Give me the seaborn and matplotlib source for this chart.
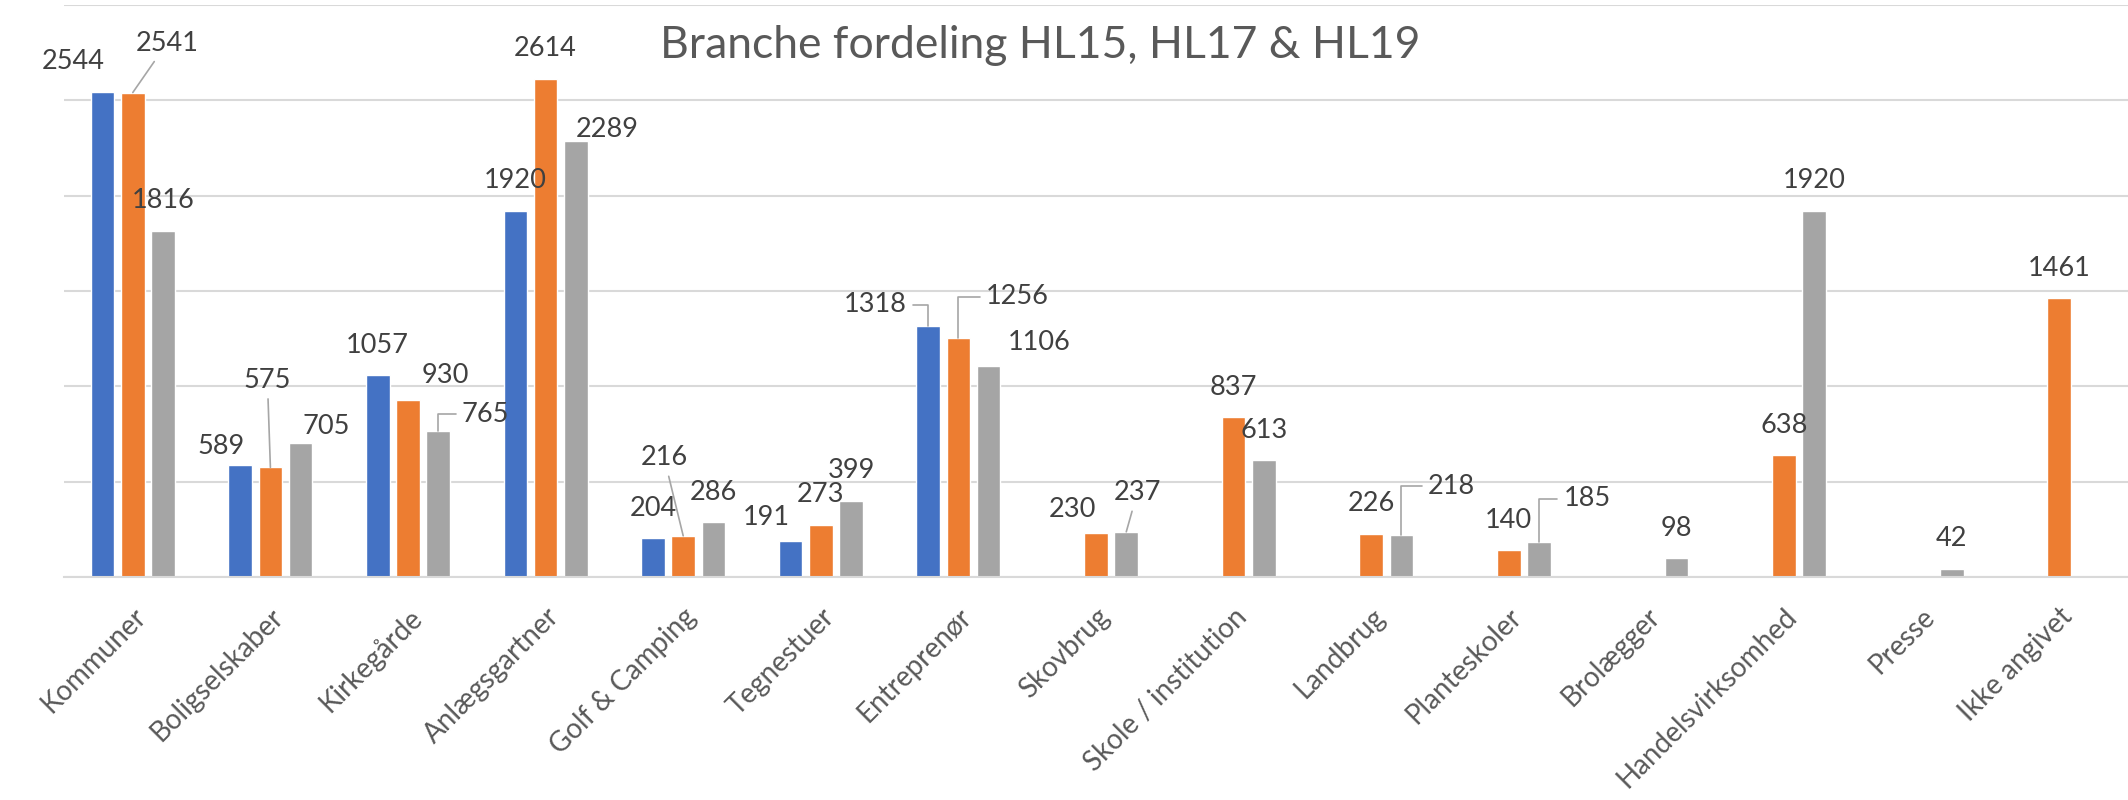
import numpy as np
import pandas as pd
import seaborn as sns
import matplotlib.pyplot as plt

# data
branches = ["Kommuner", "Boligselskaber", "Kirkegårde", "Anlægsgartner", "Golf & Camping",
            "Tegnestuer", "Entreprenør", "Skovbrug", "Skole / institution", "Landbrug",
            "Planteskoler", "Brolægger", "Handelsvirksomhed", "Presse", "Ikke angivet"]
years = ["HL15", "HL17", "HL19"]
hl15 = [2544, 589, 1057, 1920, 204, 191, 1318, None, None, None, None, None, None, None, None]
hl17 = [2541, 575, 930, 2614, 216, 273, 1256, 230, 837, 226, 140, None, 638, None, 1461]
hl19 = [1816, 705, 765, 2289, 286, 399, 1106, 237, 613, 218, 185, 98, 1920, 42, None]
colors = ["#4472C4", "#ED7D31", "#A5A5A5"]
title = "Branche fordeling HL15, HL17 & HL19"

# label placement (pixel offsets from bar top), dragged labels as in the original
label_pos = {
    ("HL15", "Kommuner"): (-29, 30, None),
    ("HL17", "Kommuner"): (34, 49, "line"),
    ("HL15", "Boligselskaber"): (-19, 18, None),
    ("HL17", "Boligselskaber"): (-3, 87, "line"),
    ("HL19", "Boligselskaber"): (26, 16, None),
    ("HL17", "Kirkegårde"): (37, 24, None),
    ("HL19", "Kirkegårde"): (47, 17, "elbow"),
    ("HL19", "Anlægsgartner"): (31, 11, None),
    ("HL17", "Golf & Camping"): (-19, 78, "line"),
    ("HL15", "Tegnestuer"): (-24, 23, None),
    ("HL15", "Entreprenør"): (-53, 21, "elbow"),
    ("HL17", "Entreprenør"): (59, 41, "elbow"),
    ("HL19", "Entreprenør"): (50, 24, None),
    ("HL17", "Skovbrug"): (-24, 24, None),
    ("HL19", "Skovbrug"): (11, 39, "line"),
    ("HL19", "Landbrug"): (50, 49, "elbow"),
    ("HL19", "Planteskoler"): (48, 43, "elbow"),
}

df = pd.DataFrame({
    "Branche": branches * 3,
    "År": np.repeat(years, len(branches)),
    "Antal": hl15 + hl17 + hl19,
}).dropna()

sns.set_style("white")
plt.rcParams["font.family"] = ["Lato", "DejaVu Sans"]

fig = plt.figure(figsize=(21.28, 8), dpi=100)
ax = fig.add_axes([64 / 2128, 1 - 577 / 800, 1 - 64 / 2128, 572 / 800])

sns.barplot(data=df, x="Branche", y="Antal", hue="År", order=branches, hue_order=years,
            palette=colors, saturation=1, width=0.66, gap=0.22, errorbar=None,
            legend=False, ax=ax)

ax.set_xlim(-0.5, len(branches) - 0.5)
ax.set_ylim(0, 3000)
ax.set_yticks(range(0, 3001, 500))
ax.set_yticklabels([])
ax.yaxis.grid(True, color="#D9D9D9", lw=1.5)
ax.set_axisbelow(True)
ax.tick_params(axis="y", length=0)
for s in ["left", "right", "top"]:
    ax.spines[s].set_visible(False)
ax.spines["bottom"].set_color("#D9D9D9")
ax.spines["bottom"].set_linewidth(1.5)
ax.set_xlabel("")
ax.set_ylabel("")

ax.set_xticks(range(len(branches)))
ax.set_xticklabels(branches, rotation=45, ha="right", rotation_mode="anchor",
                   fontsize=20, color="#595959")
ax.tick_params(axis="x", which="major", length=0, pad=19)
ax.set_xticks(np.arange(-0.5, len(branches), 1), minor=True)
ax.tick_params(axis="x", which="minor", length=8, width=1.5, color="#D9D9D9")

for cont in ax.containers:
    for bar in cont:
        h = bar.get_height()
        if not np.isfinite(h) or h <= 0:
            continue
        xc = bar.get_x() + bar.get_width() / 2
        i = int(round(xc))
        yr = years[int(round((xc - i) / 0.22)) + 1]
        dx, dy, lead = label_pos.get((yr, branches[i]), (0, 30, None))
        arrow = None
        if lead == "line":
            arrow = dict(arrowstyle="-", color="#A6A6A6", lw=1.2, shrinkA=2, shrinkB=0)
        elif lead == "elbow":
            arrow = dict(arrowstyle="-", color="#A6A6A6", lw=1.2, shrinkA=2, shrinkB=0,
                         connectionstyle="angle,angleA=0,angleB=90,rad=0")
        ax.annotate(f"{int(h)}", xy=(xc, h), xytext=(dx, dy), textcoords="offset pixels",
                    ha="center", va="center", fontsize=19.5, color="#404040",
                    arrowprops=arrow, annotation_clip=False)

fig.text(1040 / 2128, 1 - 46 / 800, title, ha="center", va="center",
         fontsize=32, color="#595959")

fig.savefig("out.png", dpi=100, facecolor="white")
